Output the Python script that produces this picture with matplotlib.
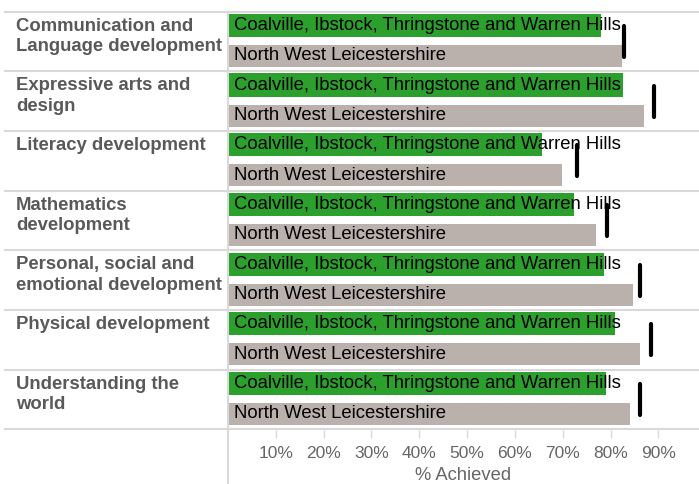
import numpy as np
import matplotlib.pyplot as plt
from matplotlib.transforms import blended_transform_factory

plt.rcParams['font.family'] = ['Liberation Sans', 'DejaVu Sans']

categories = [
    'Communication and\nLanguage development',
    'Expressive arts and\ndesign',
    'Literacy development',
    'Mathematics\ndevelopment',
    'Personal, social and\nemotional development',
    'Physical development',
    'Understanding the\nworld',
]
ward_name = 'Coalville, Ibstock, Thringstone and Warren Hills'
district_name = 'North West Leicestershire'
ward_vals = [78.1, 82.7, 65.7, 72.4, 78.6, 81.0, 79.1]
district_vals = [82.3, 86.9, 69.9, 77.0, 84.8, 86.2, 84.1]
target_vals = [82.9, 89.0, 72.9, 79.3, 86.2, 88.5, 86.1]
xticks = [10, 20, 30, 40, 50, 60, 70, 80, 90]

green = '#2ca02c'
grey = '#bab0ac'
line_col = '#d9d9d9'

W, H = 699, 484
fig = plt.figure(figsize=(W / 100, H / 100), dpi=100)
left, right, top, bottom = 228, 699, 11.7, 429.5
ax = fig.add_axes([left / W, (H - bottom) / H, (right - left) / W, (bottom - top) / H])

n = len(categories)
rows = np.arange(n)
ax.barh(rows + 0.23, ward_vals, height=0.39, color=green)
ax.barh(rows + 0.74, district_vals, height=0.37, color=grey)
ax.vlines(target_vals, rows + 0.24, rows + 0.76, color='black', lw=3, capstyle='round')

for i in rows:
    ax.annotate(ward_name, (0, i + 0.23), xytext=(6, 0), textcoords='offset pixels',
                va='center', ha='left', fontsize=13.3, color='black')
    ax.annotate(district_name, (0, i + 0.74), xytext=(6, 0), textcoords='offset pixels',
                va='center', ha='left', fontsize=13.3, color='black')

ax.set_xlim(0, 98.5)
ax.set_ylim(n, 0)

# row separators and label column
trans = blended_transform_factory(ax.transAxes, ax.transData)
x0 = (5 - left) / (right - left)
for i in range(n + 1):
    ax.plot([x0, 1], [i, i], color=line_col, lw=1.5, transform=trans, clip_on=False)
ax.plot([0, 0], [-(H - bottom) / (bottom - top), 1], color=line_col, lw=1.5,
        transform=ax.transAxes, clip_on=False)

for i, cat in enumerate(categories):
    ax.annotate(cat, (x0, i), xycoords=trans, xytext=(11, -6), textcoords='offset pixels',
                va='top', ha='left', fontsize=13.3, fontweight='bold', color='#595959',
                linespacing=1.28)

for s in ax.spines.values():
    s.set_visible(False)
ax.set_yticks([])
ax.set_xticks(xticks)
ax.set_xticklabels([f'{t}%' for t in xticks])
ax.tick_params(axis='x', colors=line_col, length=6, width=1, labelcolor='#666666',
               labelsize=12.5, pad=6)
ax.set_xlabel('% Achieved', color='#666666', fontsize=13.2, labelpad=4)

fig.savefig('out.png', dpi=100)
